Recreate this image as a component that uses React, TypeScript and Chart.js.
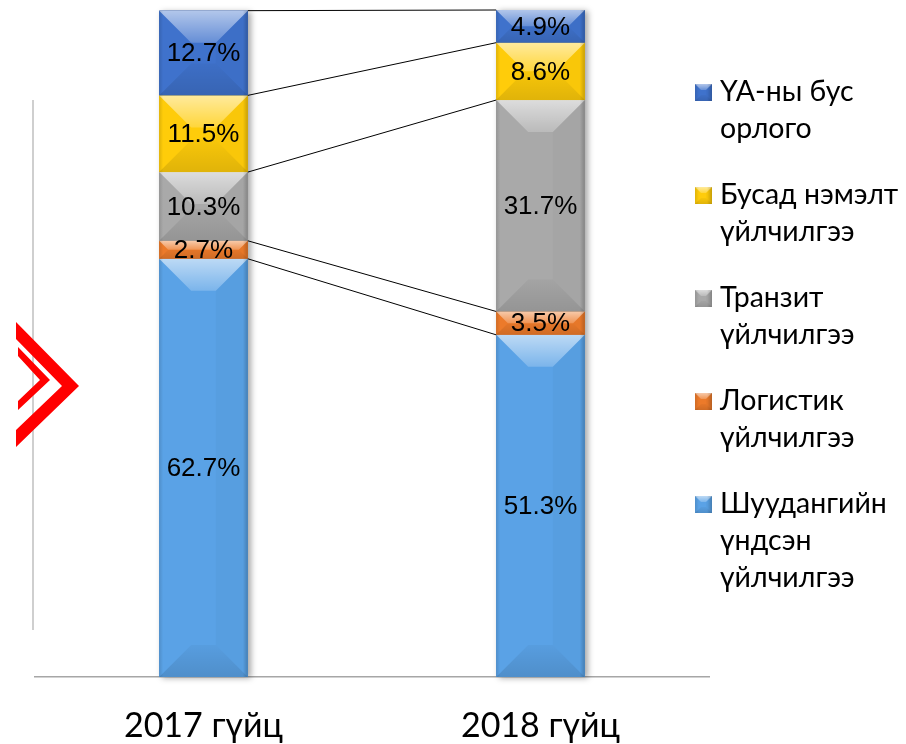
import React, { useEffect, useRef } from 'react';
import { Chart, registerables } from 'chart.js';

Chart.register(...registerables);

const categories = ['2017 гүйц', '2018 гүйц'];
const mailCore = [62.7, 51.3];
const logistics = [2.7, 3.5];
const transit = [10.3, 31.7];
const otherAdded = [11.5, 8.6];
const nonCore = [12.7, 4.9];

const seriesLabels: string[][] = [
  ['Шуудангийн', 'үндсэн', 'үйлчилгээ'],
  ['Логистик', 'үйлчилгээ'],
  ['Транзит', 'үйлчилгээ'],
  ['Бусад нэмэлт', 'үйлчилгээ'],
  ['ҮА-ны бус', 'орлого'],
];
const seriesValues = [mailCore, logistics, transit, otherAdded, nonCore];
const seriesColors = ['#5AA2E6', '#EC7A2A', '#A9A9A9', '#FFCC0A', '#3F72CC'];

const LABEL_FONT = '26px "Liberation Sans", Arial, sans-serif';
const TEXT_FONT_FAMILY = 'Lato, "Noto Sans", sans-serif';

function drawBevel(ctx: CanvasRenderingContext2D, x0: number, y0: number, x1: number, y1: number, color: string, depthMax: number) {
  const w = x1 - x0;
  const h = y1 - y0;
  if (h <= 0 || w <= 0) return;
  const d = Math.min(depthMax, h / 2, w / 2);
  ctx.save();
  ctx.fillStyle = color;
  ctx.fillRect(x0, y0, w, h);
  // top light trapezoid
  let g = ctx.createLinearGradient(0, y0, 0, y0 + d);
  g.addColorStop(0, 'rgba(255,255,255,0.6)');
  g.addColorStop(1, 'rgba(255,255,255,0.2)');
  ctx.fillStyle = g;
  ctx.beginPath();
  ctx.moveTo(x0, y0);
  ctx.lineTo(x1, y0);
  ctx.lineTo(x1 - d, y0 + d);
  ctx.lineTo(x0 + d, y0 + d);
  ctx.closePath();
  ctx.fill();
  // bottom dark trapezoid
  g = ctx.createLinearGradient(0, y1 - d, 0, y1);
  g.addColorStop(0, 'rgba(0,0,0,0.03)');
  g.addColorStop(1, 'rgba(0,0,0,0.12)');
  ctx.fillStyle = g;
  ctx.beginPath();
  ctx.moveTo(x0, y1);
  ctx.lineTo(x1, y1);
  ctx.lineTo(x1 - d, y1 - d);
  ctx.lineTo(x0 + d, y1 - d);
  ctx.closePath();
  ctx.fill();
  // right side slight shade
  ctx.fillStyle = 'rgba(0,0,0,0.025)';
  ctx.beginPath();
  ctx.moveTo(x1, y0);
  ctx.lineTo(x1 - d, y0 + d);
  ctx.lineTo(x1 - d, y1 - d);
  ctx.lineTo(x1, y1);
  ctx.closePath();
  ctx.fill();
  // edges
  g = ctx.createLinearGradient(x1 - 5, 0, x1, 0);
  g.addColorStop(0, 'rgba(0,0,0,0)');
  g.addColorStop(1, 'rgba(0,0,0,0.2)');
  ctx.fillStyle = g;
  ctx.fillRect(x1 - 5, y0, 5, h);
  g = ctx.createLinearGradient(x0, 0, x0 + 4, 0);
  g.addColorStop(0, 'rgba(0,0,0,0.12)');
  g.addColorStop(1, 'rgba(0,0,0,0)');
  ctx.fillStyle = g;
  ctx.fillRect(x0, y0, 4, h);
  ctx.restore();
}

const decorPlugin = {
  id: 'decor',
  beforeDraw(chart: any) {
    const ctx: CanvasRenderingContext2D = chart.ctx;
    ctx.save();
    ctx.fillStyle = '#FFFFFF';
    ctx.fillRect(0, 0, chart.width, chart.height);
    // thin vertical decorative line
    ctx.strokeStyle = '#BFBFBF';
    ctx.lineWidth = 1.5;
    ctx.beginPath();
    ctx.moveTo(33, 100);
    ctx.lineTo(33, 630);
    ctx.stroke();
    ctx.restore();
  },
  beforeDatasetsDraw(chart: any) {
    const ctx: CanvasRenderingContext2D = chart.ctx;
    for (let i = 0; i < categories.length; i++) {
      let top = Infinity;
      let bottom = -Infinity;
      let x = 0;
      let w = 0;
      chart.data.datasets.forEach((_: any, di: number) => {
        const el = chart.getDatasetMeta(di).data[i];
        const p = el.getProps(['x', 'y', 'base', 'width'], true);
        top = Math.min(top, p.y, p.base);
        bottom = Math.max(bottom, p.y, p.base);
        x = p.x;
        w = p.width;
      });
      ctx.save();
      ctx.shadowColor = 'rgba(0,0,0,0.35)';
      ctx.shadowBlur = 6;
      ctx.shadowOffsetX = 3;
      ctx.shadowOffsetY = 1;
      ctx.fillStyle = '#888888';
      ctx.fillRect(x - w / 2, top, w, bottom - top);
      ctx.restore();
    }
  },
  afterDatasetsDraw(chart: any) {
    const ctx: CanvasRenderingContext2D = chart.ctx;
    const n = chart.data.datasets.length;
    // bevelled segments
    for (let di = 0; di < n; di++) {
      const meta = chart.getDatasetMeta(di);
      meta.data.forEach((el: any) => {
        const p = el.getProps(['x', 'y', 'base', 'width'], true);
        const y0 = Math.min(p.y, p.base);
        const y1 = Math.max(p.y, p.base);
        drawBevel(ctx, p.x - p.width / 2, y0, p.x + p.width / 2, y1, seriesColors[di], 32);
      });
    }
    // series lines
    ctx.save();
    ctx.strokeStyle = '#000000';
    ctx.lineWidth = 1;
    for (let di = 0; di < n; di++) {
      const meta = chart.getDatasetMeta(di);
      for (let i = 0; i < meta.data.length - 1; i++) {
        const a = meta.data[i].getProps(['x', 'y', 'width'], true);
        const b = meta.data[i + 1].getProps(['x', 'y', 'width'], true);
        ctx.beginPath();
        ctx.moveTo(a.x + a.width / 2, a.y);
        ctx.lineTo(b.x - b.width / 2, b.y);
        ctx.stroke();
      }
    }
    ctx.restore();
    // data labels
    ctx.save();
    ctx.font = LABEL_FONT;
    ctx.fillStyle = '#000000';
    ctx.textAlign = 'center';
    ctx.textBaseline = 'middle';
    for (let di = 0; di < n; di++) {
      const meta = chart.getDatasetMeta(di);
      meta.data.forEach((el: any, i: number) => {
        const p = el.getProps(['x', 'y', 'base'], true);
        const v = chart.data.datasets[di].data[i];
        ctx.fillText(v.toFixed(1) + '%', p.x, (p.y + p.base) / 2 + 1);
      });
    }
    ctx.restore();
  },
  afterDraw(chart: any) {
    const ctx: CanvasRenderingContext2D = chart.ctx;
    // category labels, positioned by the x scale
    const xs = chart.scales.x;
    ctx.save();
    ctx.font = '34px ' + TEXT_FONT_FAMILY;
    ctx.fillStyle = '#000000';
    ctx.textAlign = 'center';
    ctx.textBaseline = 'middle';
    categories.forEach((c, i) => {
      ctx.fillText(c, xs.getPixelForValue(i), 726);
    });
    ctx.restore();
    // legend (top to bottom: reverse of stack order)
    ctx.save();
    ctx.font = '28.5px ' + TEXT_FONT_FAMILY;
    ctx.fillStyle = '#000000';
    ctx.textAlign = 'left';
    ctx.textBaseline = 'middle';
    const n = seriesLabels.length;
    for (let k = 0; k < n; k++) {
      const di = n - 1 - k;
      const yTop = 92 + k * 103;
      drawBevel(ctx, 695, yTop - 8, 712, yTop + 9, seriesColors[di], 6);
      seriesLabels[di].forEach((line, li) => {
        ctx.fillText(line, 720, yTop + li * 37);
      });
    }
    ctx.restore();
    // red chevron decoration
    ctx.save();
    ctx.fillStyle = '#FF0000';
    ctx.beginPath();
    ctx.moveTo(16, 322);
    ctx.lineTo(79, 386);
    ctx.lineTo(16, 447);
    ctx.lineTo(16, 430);
    ctx.lineTo(62, 386);
    ctx.lineTo(16, 339);
    ctx.closePath();
    ctx.fill();
    ctx.beginPath();
    ctx.moveTo(18, 347);
    ctx.lineTo(50, 380);
    ctx.lineTo(18, 410);
    ctx.lineTo(18, 401);
    ctx.lineTo(40, 380);
    ctx.lineTo(18, 356);
    ctx.closePath();
    ctx.fill();
    ctx.restore();
  },
};

export default function App() {
  const canvasRef = useRef<HTMLCanvasElement | null>(null);

  useEffect(() => {
    const canvas = canvasRef.current;
    if (!canvas) return;
    const chart = new Chart(canvas, {
      type: 'bar',
      data: {
        labels: categories,
        datasets: seriesValues.map((vals, i) => ({
          label: seriesLabels[i].join(' '),
          data: vals,
          backgroundColor: seriesColors[i],
          borderWidth: 0,
          barPercentage: 0.263,
          categoryPercentage: 1,
        })),
      },
      options: {
        responsive: false,
        animation: false,
        events: [],
        layout: { padding: { left: 35, right: 197, top: 10, bottom: 67 } },
        plugins: {
          legend: { display: false },
          tooltip: { enabled: false },
          title: { display: false },
        },
        scales: {
          x: {
            stacked: true,
            grid: { display: false, drawTicks: false },
            border: { display: true, color: '#A6A6A6', width: 1.5 },
            ticks: { display: false },
          },
          y: {
            stacked: true,
            display: false,
            min: 0,
            max: 100,
          },
        },
      },
      plugins: [decorPlugin],
    });
    return () => chart.destroy();
  }, []);

  return (
    <div style={{ position: 'absolute', left: 0, top: 0, width: 906, height: 744, background: '#fff' }}>
      <canvas ref={canvasRef} width={906} height={744} />
    </div>
  );
}
